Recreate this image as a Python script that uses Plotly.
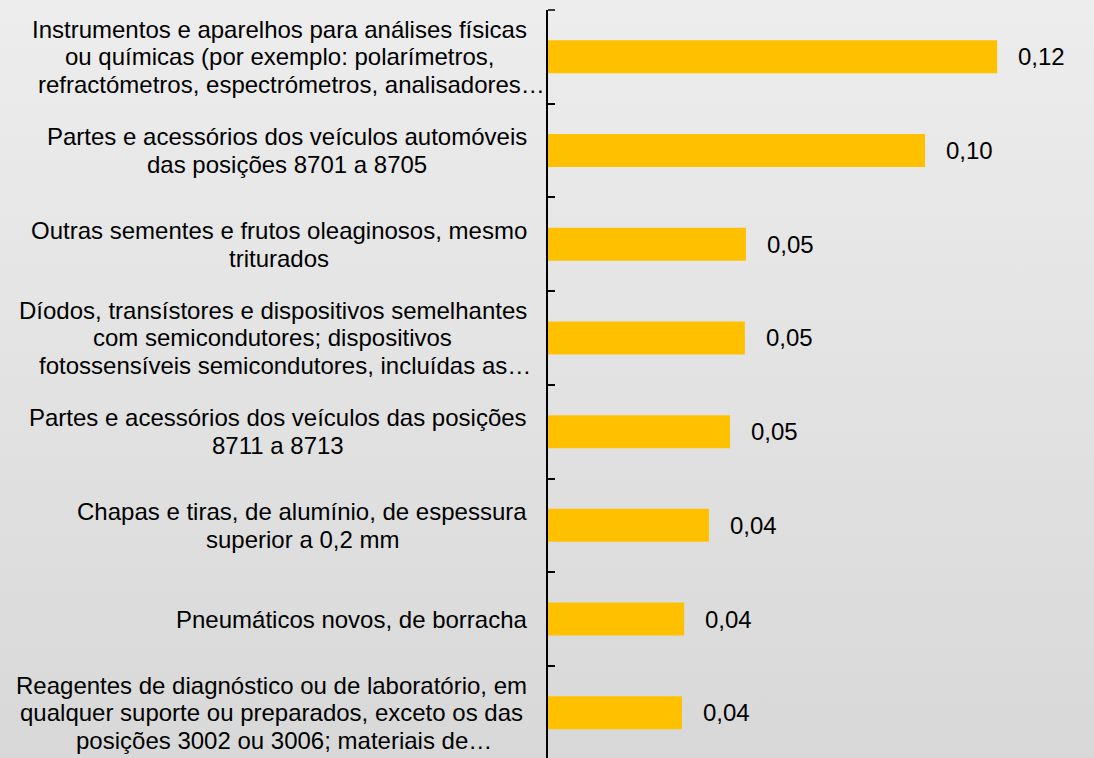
import base64
import unicodedata
import plotly.graph_objects as go

# ---- data ----
categories = [
    ["Instrumentos e aparelhos para análises físicas",
     "ou químicas (por exemplo: polarímetros,",
     "refractómetros, espectrómetros, analisadores…"],
    ["Partes e acessórios dos veículos automóveis",
     "das posições 8701 a 8705"],
    ["Outras sementes e frutos oleaginosos, mesmo",
     "triturados"],
    ["Díodos, transístores e dispositivos semelhantes",
     "com semicondutores; dispositivos",
     "fotossensíveis semicondutores, incluídas as…"],
    ["Partes e acessórios dos veículos das posições",
     "8711 a 8713"],
    ["Chapas e tiras, de alumínio, de espessura",
     "superior a 0,2 mm"],
    ["Pneumáticos novos, de borracha"],
    ["Reagentes de diagnóstico ou de laboratório, em",
     "qualquer suporte ou preparados, exceto os das",
     "posições 3002 ou 3006; materiais de…"],
]
values = [0.1214, 0.1019, 0.0535, 0.0532, 0.0492, 0.0435, 0.0368, 0.0362]

labels = ["<br>".join(c) for c in categories]
value_text = [f"{v:.2f}".replace(".", ",") for v in values]

# ---- layout geometry ----
W, H = 1094, 758
ML, MR, MT, MB = 548, 28, 10, 0
PW, PH = W - ML - MR, H - MT - MB
FONT = "Liberation Sans, Arial, sans-serif"
FS = 24
BAR = "#FFC000"
CAT_PX = 93.7           # pixel height of one category band
LINE_PX = 27.5          # label line spacing
LABEL_RIGHT = 527       # right edge of the label text box (px)

# Arial / Liberation Sans advance widths (1/1000 em) for measuring label lines
_W = {" ": 278, ",": 278, ".": 278, ":": 278, ";": 278, "(": 333, ")": 333, "-": 333,
      "…": 1000}
_W.update({d: 556 for d in "0123456789"})
_W.update(dict(zip("abcdefghijklmnopqrstuvwxyz",
                   [556, 556, 500, 556, 556, 278, 556, 556, 222, 222, 500, 222, 833,
                    556, 556, 556, 556, 333, 500, 278, 556, 500, 722, 500, 500, 500])))
_W.update(dict(zip("ABCDEFGHIJKLMNOPQRSTUVWXYZ",
                   [667, 667, 722, 722, 667, 611, 778, 722, 278, 500, 667, 556, 833,
                    722, 778, 667, 778, 722, 667, 611, 722, 667, 944, 667, 667, 611])))


def text_width(s):
    tot = 0
    for ch in s:
        if ch in _W:
            tot += _W[ch]
        elif ch in "íìîï":
            tot += 278
        else:
            base = unicodedata.normalize("NFD", ch)[0]
            tot += _W.get(base, 556)
    return tot * FS / 1000.0


fig = go.Figure()
fig.add_trace(go.Bar(
    y=labels, x=values, orientation="h",
    marker=dict(color=BAR, line=dict(width=0)),
    hoverinfo="skip",
))

annotations = []
for lines, lab, v, t in zip(categories, labels, values, value_text):
    annotations.append(dict(
        x=v, y=lab, xref="x", yref="y", text=t, showarrow=False,
        xanchor="left", yanchor="middle", xshift=19,
        font=dict(family=FONT, size=FS, color="#000000"),
    ))
    maxw = max(text_width(ln.rstrip("…")) for ln in lines)
    cx = LABEL_RIGHT - maxw / 2.0
    n = len(lines)
    for i, ln in enumerate(lines):
        txt = ln
        if ln.endswith("…"):
            txt = '<span style="color:rgba(0,0,0,0)">…</span>' + ln
        annotations.append(dict(
            x=0, y=lab, xref="paper", yref="y", text=txt, showarrow=False,
            xanchor="center", yanchor="middle", align="center",
            xshift=cx - ML, yshift=((n - 1) / 2.0 - i) * LINE_PX,
            font=dict(family=FONT, size=FS, color="#000000"),
        ))

# gradient background via svg image
svg = ('<svg xmlns="http://www.w3.org/2000/svg" width="100" height="100" preserveAspectRatio="none" viewBox="0 0 100 100">'
       '<defs><linearGradient id="g" x1="0" y1="0" x2="0" y2="1">'
       '<stop offset="0" stop-color="#ededed"/><stop offset="1" stop-color="#d8d8d8"/>'
       '</linearGradient></defs><rect x="0" y="0" width="100" height="100" fill="url(#g)"/></svg>')
src = "data:image/svg+xml;base64," + base64.b64encode(svg.encode()).decode()

n_cat = len(labels)
y_bottom = -0.5 + PH / CAT_PX

fig.update_layout(
    width=W, height=H,
    margin=dict(l=ML, r=MR, t=MT, b=MB, pad=0),
    paper_bgcolor="#e3e3e3",
    plot_bgcolor="rgba(0,0,0,0)",
    showlegend=False,
    bargap=1 - 33.0 / CAT_PX,
    annotations=annotations,
    images=[dict(
        source=src, xref="paper", yref="paper",
        x=-ML / PW, y=1 + MT / PH, sizex=W / PW, sizey=H / PH,
        xanchor="left", yanchor="top", sizing="stretch", layer="below",
    )],
    shapes=[dict(
        type="line", xref="paper", yref="paper", xsizemode="pixel", xanchor=0,
        x0=0, x1=7, y0=1, y1=1, line=dict(color="#000000", width=1.5),
    )],
    xaxis=dict(range=[0, 0.14], visible=False, showgrid=False, zeroline=False),
    yaxis=dict(
        range=[y_bottom, -0.5], showticklabels=False, showgrid=False, zeroline=False,
        showline=True, linecolor="#000000", linewidth=2,
        ticks="inside", ticklen=7, tickwidth=1.5, tickcolor="#000000",
        tickson="boundaries",
    ),
)

fig.write_html(
    "out.html",
    config={"displayModeBar": False},
    post_script="document.body.style.margin='0';document.body.style.overflow='hidden';",
)
